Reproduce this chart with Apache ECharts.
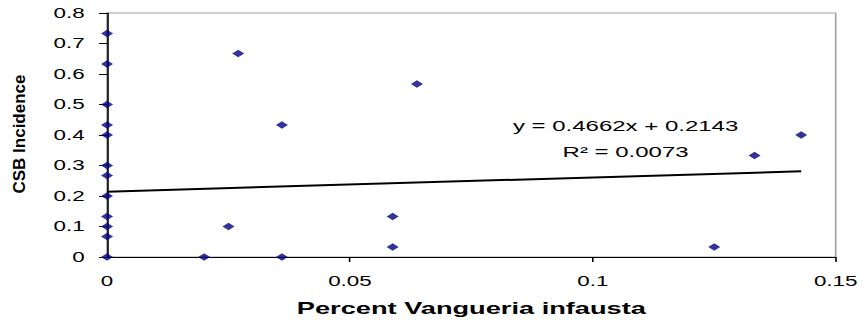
<!DOCTYPE html>
<html>
<head>
<meta charset="utf-8">
<script src="https://cdn.jsdelivr.net/npm/echarts@6/dist/echarts.min.js"></script>
<style>
html,body{margin:0;padding:0;background:#fff;overflow:hidden;}
#chart{width:540.625px;height:327px;transform:scaleX(1.6);transform-origin:0 0;}
</style>
</head>
<body>
<div id="chart"></div>
<script>
// ---- data ----
const xValues = [0, 0, 0, 0, 0, 0, 0, 0, 0, 0, 0, 0,
                 0.02, 0.025, 0.027, 0.036, 0.036, 0.0588, 0.0588, 0.0638, 0.125, 0.1333, 0.1429];
const yValues = [0.733, 0.633, 0.5, 0.433, 0.4, 0.3, 0.267, 0.2, 0.133, 0.1, 0.067, 0,
                 0, 0.1, 0.667, 0.433, 0, 0.133, 0.033, 0.567, 0.033, 0.333, 0.4];
const trendCoef = [0.4662, 0.2143];      // slope, intercept
const trendRange = [0, 0.1429];          // x extent of trendline
const xTickLabels = ['0', '0.05', '0.1', '0.15'];
const xTickMarks = [0.05, 0.1, 0.15];
const yTickLabels = ['0', '0.1', '0.2', '0.3', '0.4', '0.5', '0.6', '0.7', '0.8'];
const equationLines = ['y = 0.4662x + 0.2143', 'R\u00B2 = 0.0073'];
const xTitle = 'Percent Vangueria infausta';
const yTitle = 'CSB Incidence';

const FF = '"Liberation Sans", Arial, sans-serif';
const chart = echarts.init(document.getElementById('chart'), null, {renderer: 'svg'});

const scatterData = xValues.map((x, i) => [x, yValues[i]]);
const trendData = trendRange.map(x => [x, trendCoef[0] * x + trendCoef[1]]);

chart.setOption({
  animation: false,
  backgroundColor: '#fff',
  grid: {left: 66.9, right: 18.7, top: 13, bottom: 70, show: true, borderColor: '#a0a0a0', borderWidth: 1, backgroundColor: 'transparent'},
  xAxis: {
    type: 'value', min: 0, max: 0.15, interval: 0.05,
    axisLine: {show: true, onZero: false, lineStyle: {color: '#000', width: 1}},
    axisTick: {show: true, length: 5, customValues: xTickMarks, lineStyle: {color: '#000'}},
    splitLine: {show: false},
    axisLabel: {margin: 17, fontSize: 14, color: '#000', fontFamily: FF,
      formatter: (v, i) => xTickLabels[i] !== undefined ? xTickLabels[i] : String(v)},
    name: xTitle, nameLocation: 'middle', nameGap: 43,
    nameTextStyle: {fontWeight: 'bold', fontSize: 17, color: '#000', fontFamily: FF}
  },
  yAxis: {
    type: 'value', min: 0, max: 0.8, interval: 0.1,
    axisLine: {show: true, onZero: false, lineStyle: {color: '#000', width: 1}},
    axisTick: {show: true, length: 5, lineStyle: {color: '#000'}},
    splitLine: {show: false},
    axisLabel: {margin: 14, fontSize: 14, color: '#000', fontFamily: FF,
      formatter: (v, i) => yTickLabels[i] !== undefined ? yTickLabels[i] : String(v)}
  },
  graphic: [
    {type: 'text', x: 391, y: 113, silent: true,
     style: {text: equationLines.join('\n'), font: '15px ' + FF, fill: '#000', align: 'center', verticalAlign: 'top', lineHeight: 26}},
    {type: 'text', x: 12, y: 134, rotation: Math.PI / 2, scaleY: 0.62, silent: true,
     style: {text: yTitle, font: 'bold 17px ' + FF, fill: '#000', align: 'center', verticalAlign: 'middle'}}
  ],
  series: [
    {type: 'line', data: trendData, symbol: 'none', silent: true, z: 2,
     lineStyle: {color: '#000', width: 2}},
    {type: 'scatter', data: scatterData, symbol: 'diamond', symbolSize: 7.5, z: 3,
     itemStyle: {color: '#000080'}}
  ]
});
</script>
</body>
</html>
